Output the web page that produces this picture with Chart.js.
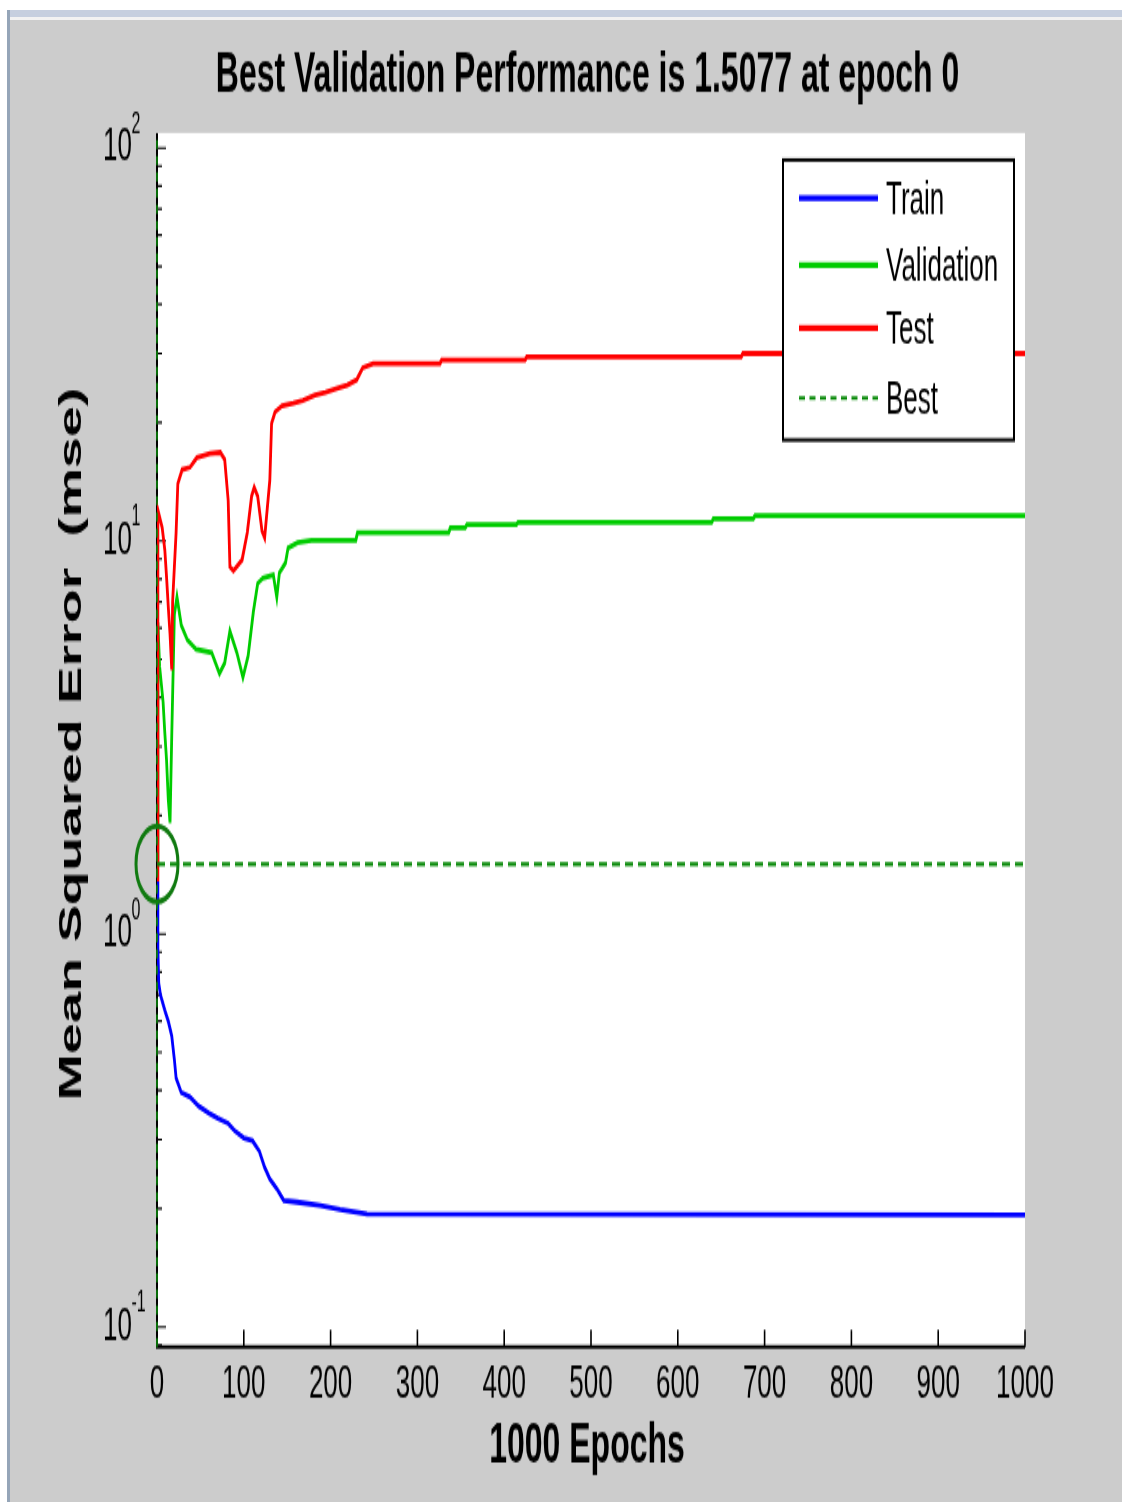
<!DOCTYPE html>
<html>
<head>
<meta charset="utf-8">
<title>Performance</title>
<script src="https://cdn.jsdelivr.net/npm/chart.js"></script>
<style>
  html, body { margin: 0; padding: 0; background: #cccccc; }
  body { width: 1122px; height: 1502px; position: relative; overflow: hidden; }
  /* the figure is drawn at 835px high and stretched to the window height */
  #wrap { position: absolute; left: 0; top: 0; width: 1122px; height: 835px;
          transform-origin: 0 0; transform: scaleY(1.7988); }
  .edge { position: absolute; }
  #edgeTop { left: 0; top: 0; width: 1122px; height: 10px; background: #ffffff; }
  #edgeBand { left: 0; top: 10px; width: 1122px; height: 7px; background: #c6cfdf; }
  #edgeLine { left: 0; top: 17px; width: 1122px; height: 3px; background: #f2f2f2; }
  #edgeLeft { left: 0; top: 0; width: 7px; height: 1502px; background: #ffffff; }
  #edgeSide { left: 7px; top: 10px; width: 3px; height: 1492px; background: #95a5b8; }
</style>
</head>
<body>
<div id="wrap"><canvas id="perf" width="1122" height="835"></canvas></div>
<div class="edge" id="edgeTop"></div>
<div class="edge" id="edgeBand"></div>
<div class="edge" id="edgeLine"></div>
<div class="edge" id="edgeLeft"></div>
<div class="edge" id="edgeSide"></div>
<script>
// training record (epoch, mse)
const trainEpochs = [0, 1, 2, 4, 9, 13, 17, 20, 22, 28, 38, 48, 60, 70, 82, 90, 100, 110, 118, 124, 130, 138, 146, 161, 188, 211, 242, 1000];
const trainMse = [1.36, 0.92, 0.75, 0.70, 0.64, 0.60, 0.55, 0.48, 0.43, 0.395, 0.385, 0.365, 0.35, 0.34, 0.33, 0.315, 0.303, 0.298, 0.28, 0.255, 0.238, 0.225, 0.21, 0.208, 0.204, 0.199, 0.194, 0.193];

const validEpochs = [0, 1, 3, 7, 9, 11, 13, 15, 17, 20, 23, 28, 35, 45, 63, 72, 78, 84, 92, 99, 105, 111, 116, 122, 134, 138, 141, 148, 151, 162, 178, 229, 231, 336, 338, 355, 357, 414, 416, 639, 641, 687, 689, 1000];
const validMse = [1.5077, 6.2, 4.8, 3.9, 3.25, 2.77, 2.2, 1.92, 3.2, 6.5, 7.2, 6.1, 5.6, 5.3, 5.2, 4.6, 4.9, 5.9, 5.2, 4.5, 5.1, 6.6, 7.8, 8.05, 8.2, 7.2, 8.3, 8.8, 9.6, 9.9, 10.05, 10.05, 10.5, 10.5, 10.8, 10.8, 11.0, 11.0, 11.15, 11.15, 11.4, 11.4, 11.6, 11.6];

const testEpochs = [0, 1, 6, 9, 11, 13, 15, 17, 18, 22, 24, 29, 38, 46, 61, 73, 78, 82, 84, 88, 98, 104, 109, 112, 116, 121, 124, 130, 132, 136, 144, 157, 168, 182, 194, 209, 219, 230, 237, 249, 326, 328, 424, 426, 673, 675, 1000];
const testMse = [1.38, 12.0, 10.8, 9.5, 8.1, 6.8, 5.8, 4.7, 7.0, 10.5, 14.0, 15.2, 15.4, 16.3, 16.7, 16.8, 16.1, 12.7, 8.6, 8.4, 8.95, 10.5, 13.0, 13.7, 13.0, 10.6, 10.2, 14.3, 19.9, 21.3, 22.1, 22.4, 22.8, 23.5, 23.9, 24.5, 24.9, 25.7, 27.6, 28.3, 28.3, 28.9, 28.9, 29.4, 29.4, 30.0, 30.0];

const bestEpoch = 0;
const bestMse = 1.5077;
const totalEpochs = 1000;

// axes
const xTicks = [0, 100, 200, 300, 400, 500, 600, 700, 800, 900, 1000];
const yTickExponents = [-1, 0, 1, 2];
const yMin = 0.089;
const yMax = 109.2;

const FONT = '"Liberation Sans", Arial, sans-serif';

const toPoints = (xs, ys) => xs.map((x, i) => ({ x: x, y: ys[i] }));

const datasets = [
  { label: 'Train', data: toPoints(trainEpochs, trainMse), borderColor: '#0000ff',
    borderWidth: 2.8, showLine: true, pointRadius: 0, order: 3 },
  { label: 'Validation', data: toPoints(validEpochs, validMse), borderColor: '#00cc00',
    borderWidth: 2.8, showLine: true, pointRadius: 0, order: 2 },
  { label: 'Test', data: toPoints(testEpochs, testMse), borderColor: '#ff0000',
    borderWidth: 2.8, showLine: true, pointRadius: 0, order: 1 },
  { label: 'Best', data: [{ x: 0, y: bestMse }, { x: totalEpochs, y: bestMse }],
    borderColor: '#0a8a0a', borderWidth: 2.2, borderDash: [8, 5], showLine: true,
    pointRadius: 0, order: 0 },
  // vertical marker at the best epoch
  { data: [{ x: bestEpoch, y: yMin }, { x: bestEpoch, y: yMax }],
    borderColor: '#0a8a0a', borderWidth: 1.6, borderDash: [5, 4], showLine: true,
    pointRadius: 0, order: 0, clip: false },
  // circle round the best point
  { data: [{ x: bestEpoch, y: bestMse }], showLine: false, pointStyle: 'circle',
    pointRadius: 21, pointBorderWidth: 3, pointBorderColor: '#107a10',
    pointBackgroundColor: 'rgba(0,0,0,0)', order: 0, clip: false }
];

const perfFrame = {
  id: 'perfFrame',
  beforeDatasetsDraw(chart) {
    const { ctx, chartArea: a, scales: { x, y } } = chart;
    ctx.save();
    ctx.fillStyle = '#ffffff';
    ctx.fillRect(a.left, a.top, a.right - a.left, a.bottom - a.top);

    ctx.strokeStyle = '#000000';
    // inward ticks on the x axis
    ctx.lineWidth = 1.6;
    ctx.beginPath();
    xTicks.forEach(v => {
      const px = x.getPixelForValue(v);
      ctx.moveTo(px, a.bottom);
      ctx.lineTo(px, a.bottom - 9.5);
    });
    ctx.stroke();
    // log ticks on the y axis, long ones at each decade
    ctx.lineWidth = 1.2;
    ctx.beginPath();
    for (let e = -2; e <= 2; e++) {
      for (let m = 1; m <= 9; m++) {
        const v = m * Math.pow(10, e);
        if (v < y.min || v > y.max) continue;
        const py = y.getPixelForValue(v);
        ctx.moveTo(a.left, py);
        ctx.lineTo(a.left + (m === 1 ? 9 : 5), py);
      }
    }
    ctx.stroke();
    // axis lines
    ctx.lineWidth = 2;
    ctx.beginPath();
    ctx.moveTo(a.left, a.top);
    ctx.lineTo(a.left, a.bottom);
    ctx.lineTo(a.right, a.bottom);
    ctx.stroke();
    ctx.restore();
  },
  afterDatasetsDraw(chart) {
    // boxed legend in the upper right corner
    const ctx = chart.ctx;
    const box = { left: 783, top: 88.9, width: 231, height: 155.7 };
    const rows = [110.1, 147.3, 182.3, 221.3];
    ctx.save();
    ctx.fillStyle = '#ffffff';
    ctx.fillRect(box.left, box.top, box.width, box.height);
    ctx.strokeStyle = '#000000';
    ctx.lineWidth = 2;
    ctx.strokeRect(box.left, box.top, box.width, box.height);
    const entries = chart.data.datasets.filter(d => d.label);
    entries.forEach((d, i) => {
      const ly = rows[i];
      ctx.strokeStyle = d.borderColor;
      ctx.lineWidth = d.borderDash ? 2 : 3.2;
      ctx.setLineDash(d.borderDash ? [6, 4.5] : []);
      ctx.beginPath();
      ctx.moveTo(799, ly);
      ctx.lineTo(878, ly);
      ctx.stroke();
      ctx.setLineDash([]);
      ctx.fillStyle = '#000000';
      ctx.font = '26px ' + FONT;
      ctx.textAlign = 'left';
      ctx.textBaseline = 'middle';
      ctx.fillText(d.label, 886, ly + 2);
    });
    ctx.restore();
  },
  afterDraw(chart) {
    const { ctx, chartArea: a, scales: { x, y } } = chart;
    ctx.save();
    ctx.fillStyle = '#000000';

    // title
    ctx.font = 'bold 32px ' + FONT;
    ctx.textAlign = 'center';
    ctx.textBaseline = 'middle';
    ctx.fillText('Best Validation Performance is ' + bestMse + ' at epoch ' + bestEpoch, 587.5, 41.7);

    // x tick labels
    ctx.font = '26px ' + FONT;
    xTicks.forEach(v => ctx.fillText(String(v), x.getPixelForValue(v), 770));

    // x axis title
    ctx.font = 'bold 32px ' + FONT;
    ctx.fillText(totalEpochs + ' Epochs', 587, 804.4);

    // y tick labels: 10 with a raised exponent
    ctx.textAlign = 'left';
    yTickExponents.forEach(e => {
      const py = y.getPixelForValue(Math.pow(10, e));
      ctx.font = '26px ' + FONT;
      ctx.textBaseline = 'middle';
      ctx.fillText('10', 103, py);
      ctx.font = '16px ' + FONT;
      ctx.textBaseline = 'alphabetic';
      ctx.fillText(String(e), 131.5, py - 8.6);
    });

    // y axis title
    ctx.translate(72, 413.6);
    ctx.rotate(-Math.PI / 2);
    ctx.font = 'bold 31px ' + FONT;
    ctx.textAlign = 'center';
    ctx.textBaseline = 'middle';
    ctx.fillText('Mean Squared Error  (mse)', 0, 0);
    ctx.restore();
  }
};

new Chart(document.getElementById('perf'), {
  type: 'scatter',
  data: { datasets: datasets },
  options: {
    responsive: false,
    devicePixelRatio: 1,
    animation: false,
    events: [],
    layout: { padding: { left: 157, right: 97, top: 73.9, bottom: 86.2 } },
    elements: { line: { tension: 0 } },
    scales: {
      x: { type: 'linear', min: 0, max: totalEpochs, display: false },
      y: { type: 'logarithmic', min: yMin, max: yMax, display: false }
    },
    plugins: { legend: { display: false }, tooltip: { enabled: false }, title: { display: false } }
  },
  plugins: [perfFrame]
});
</script>
</body>
</html>
